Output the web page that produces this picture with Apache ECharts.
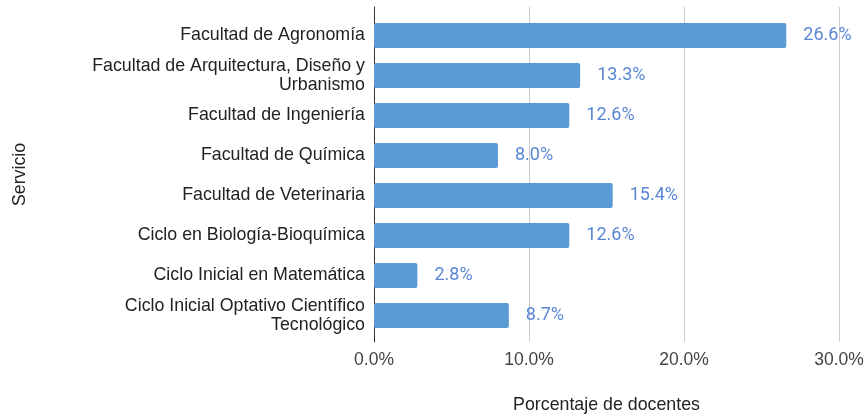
<!DOCTYPE html>
<html><head><meta charset="utf-8">
<script src="https://cdn.jsdelivr.net/npm/echarts@6/dist/echarts.min.js"></script>
<style>html,body{margin:0;padding:0;background:#fff}#c{width:867px;height:419px}</style>
</head><body><div id="c"></div>
<script>
const categories = [
  "Facultad de Agronomía",
  "Facultad de Arquitectura, Diseño y\nUrbanismo",
  "Facultad de Ingeniería",
  "Facultad de Química",
  "Facultad de Veterinaria",
  "Ciclo en Biología-Bioquímica",
  "Ciclo Inicial en Matemática",
  "Ciclo Inicial Optativo Científico\nTecnológico"
];
const values = [26.6, 13.3, 12.6, 8.0, 15.4, 12.6, 2.8, 8.7];
const xTicks = [0, 10, 20, 30];
const xName = "Porcentaje de docentes";
const yName = "Servicio";

const chart = echarts.init(document.getElementById('c'), null, {renderer: 'canvas'});
const font = 'Liberation Sans, Arial, sans-serif';
chart.setOption({
  animation: false,
  grid: [
    {left: 374, right: 28, top: 7, bottom: 77},
    {left: 374, right: 28, top: 15.5, bottom: 83.5}
  ],
  xAxis: [
    {gridIndex: 0, type: 'value', min: xTicks[0], max: xTicks[xTicks.length-1], interval: 10,
     axisLine: {show: false}, axisTick: {show: false},
     splitLine: {show: true, lineStyle: {color: '#cccccc', width: 1}},
     axisLabel: {show: true, formatter: v => v.toFixed(1) + '%', color: '#444', fontSize: 17.5, fontFamily: font, margin: 9},
     name: xName, nameLocation: 'middle', nameGap: 54,
     nameTextStyle: {color: '#222', fontSize: 17.8, fontFamily: font}},
    {gridIndex: 1, type: 'value', min: 0, max: 30, interval: 10,
     axisLine: {show: false}, axisTick: {show: false}, splitLine: {show: false}, axisLabel: {show: false}}
  ],
  yAxis: [
    {gridIndex: 0, type: 'value', min: 0, max: 1, axisLabel: {show: false}, splitLine: {show: false}, axisTick: {show: false},
     axisLine: {show: true, onZero: false, lineStyle: {color: '#333', width: 1}},
     name: yName, nameLocation: 'middle', nameGap: 345, nameRotate: 90,
     nameTextStyle: {color: '#222', fontSize: 17.8, fontFamily: font}},
    {gridIndex: 1, type: 'category', data: categories, inverse: true,
     axisLine: {show: false}, axisTick: {show: false},
     axisLabel: {color: '#222', fontSize: 17.8, fontFamily: font, margin: 9, lineHeight: 19, align: 'right'}}
  ],
  series: [{
    type: 'bar', xAxisIndex: 1, yAxisIndex: 1, data: values,
    barCategoryGap: '37.5%',
    itemStyle: {color: '#5b9bd5', borderRadius: 2},
    label: {show: true, position: 'right', distance: 17, formatter: p => p.value.toFixed(1) + '%',
            color: '#5a86d6', fontSize: 18, fontFamily: 'Roboto, sans-serif'}
  }]
});
</script></body></html>
